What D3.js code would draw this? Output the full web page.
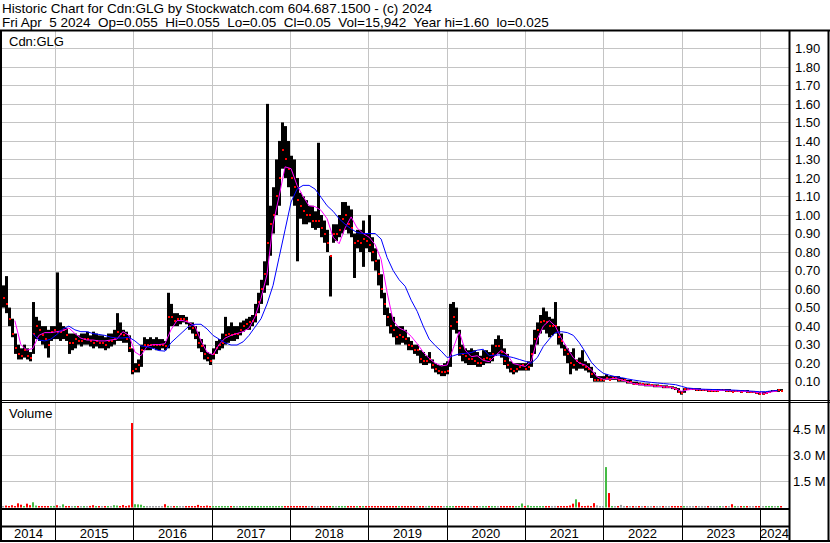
<!DOCTYPE html>
<html>
<head>
<meta charset="utf-8">
<script src="https://cdn.jsdelivr.net/npm/d3@7"></script>
<style>
body { margin: 0; background: #fff; }
text { font-family: "Liberation Sans", Arial, sans-serif; fill: #000; }
</style>
</head>
<body>
<div id="chart"></div>
<script>
// Text
var titleLine1 = "Historic Chart for Cdn:GLG by Stockwatch.com 604.687.1500 - (c) 2024";
var titleLine2 = "Fri Apr  5 2024  Op=0.055  Hi=0.055  Lo=0.05  Cl=0.05  Vol=15,942  Year hi=1.60  lo=0.025";
var symbol = "Cdn:GLG";
var volTitle = "Volume";

// Tick labels
var years = ["2014", "2015", "2016", "2017", "2018", "2019", "2020", "2021", "2022", "2023", "2024"];
var priceTicks = [0.1, 0.2, 0.3, 0.4, 0.5, 0.6, 0.7, 0.8, 0.9, 1.0, 1.1, 1.2, 1.3, 1.4, 1.5, 1.6, 1.7, 1.8, 1.9];
var volTicks = [1500, 3000, 4500];
var volTickLabels = ["1.5 M", "3.0 M", "4.5 M"];

// Bars are two weeks apart from the first one, moving averages four weeks apart
var firstBar = new Date(2014, 3, 28);
var barDays = 14;
var maDays = 28;

// One row per year of bars
var barHigh = [
  0.62,0.67,0.50,0.44,0.36,0.30,0.28,0.30,0.28,0.26,0.53,0.45,0.43,0.40,0.40,0.38,0.40,0.40,0.69,0.42,0.40,0.39,0.36,0.36,0.36,0.35,
  0.36,0.36,0.37,0.35,0.37,0.36,0.35,0.35,0.34,0.36,0.36,0.38,0.47,0.42,0.38,0.37,0.35,0.28,0.20,0.22,0.30,0.34,0.33,0.34,0.33,0.34,
  0.33,0.33,0.32,0.58,0.52,0.47,0.47,0.46,0.46,0.45,0.42,0.42,0.40,0.37,0.33,0.30,0.26,0.25,0.28,0.32,0.33,0.36,0.45,0.40,0.42,0.40,
  0.40,0.42,0.43,0.44,0.45,0.46,0.52,0.58,0.65,0.75,1.60,1.05,1.15,1.30,1.40,1.50,1.48,1.40,1.32,1.30,1.20,1.12,1.10,1.08,1.05,1.05,
  1.02,1.39,1.00,0.97,0.92,0.78,0.95,0.95,1.00,1.07,1.07,1.05,1.03,0.90,0.92,0.92,0.97,0.90,1.00,0.88,0.82,0.76,0.68,0.58,0.50,0.47,
  0.45,0.40,0.40,0.40,0.38,0.34,0.32,0.30,0.30,0.27,0.26,0.24,0.26,0.22,0.20,0.19,0.19,0.20,0.21,0.52,0.53,0.50,0.38,0.30,0.28,0.27,
  0.28,0.27,0.26,0.24,0.27,0.27,0.26,0.30,0.33,0.35,0.33,0.28,0.25,0.21,0.20,0.20,0.20,0.20,0.20,0.21,0.30,0.38,0.42,0.46,0.50,0.48,
  0.45,0.44,0.53,0.40,0.36,0.30,0.28,0.26,0.28,0.22,0.23,0.27,0.21,0.20,0.18,0.15,0.13,0.13,0.13,0.14,0.13,0.13,0.13,0.13,0.12,0.12,
  0.11,0.11,0.10,0.10,0.095,0.09,0.09,0.09,0.085,0.085,0.085,0.08,0.08,0.08,0.075,0.075,0.07,0.065,0.05,0.065,0.065,0.065,0.065,0.065,0.065,0.06,
  0.06,0.06,0.06,0.06,0.06,0.06,0.06,0.06,0.06,0.055,0.055,0.055,0.055,0.055,0.055,0.05,0.05,0.045,0.045,0.045,0.045,0.05,0.055,0.055,0.06,0.06
];
var barLow = [
  0.50,0.47,0.40,0.34,0.25,0.22,0.22,0.23,0.22,0.21,0.25,0.33,0.32,0.30,0.28,0.23,0.32,0.33,0.33,0.32,0.33,0.32,0.25,0.27,0.28,0.30,
  0.29,0.30,0.30,0.29,0.28,0.29,0.28,0.28,0.27,0.28,0.29,0.30,0.32,0.32,0.31,0.31,0.26,0.14,0.15,0.15,0.18,0.27,0.27,0.27,0.28,0.27,
  0.27,0.28,0.27,0.28,0.40,0.40,0.40,0.41,0.42,0.41,0.38,0.36,0.33,0.28,0.26,0.22,0.21,0.19,0.22,0.25,0.27,0.28,0.30,0.31,0.32,0.32,
  0.33,0.35,0.37,0.38,0.38,0.40,0.42,0.47,0.52,0.58,0.62,0.78,0.90,1.00,1.05,1.25,1.20,1.15,1.10,1.05,0.75,0.98,0.95,0.95,0.96,0.93,
  0.92,0.93,0.88,0.85,0.80,0.56,0.85,0.86,0.88,0.90,0.92,0.90,0.88,0.66,0.82,0.80,0.72,0.82,0.80,0.75,0.70,0.62,0.55,0.46,0.40,0.36,
  0.34,0.30,0.30,0.31,0.30,0.27,0.27,0.25,0.24,0.20,0.19,0.19,0.20,0.17,0.15,0.14,0.13,0.13,0.14,0.18,0.38,0.36,0.24,0.21,0.20,0.19,
  0.19,0.19,0.18,0.18,0.19,0.20,0.20,0.21,0.24,0.25,0.23,0.19,0.17,0.15,0.14,0.15,0.16,0.16,0.16,0.16,0.18,0.25,0.30,0.36,0.38,0.36,
  0.34,0.35,0.36,0.30,0.28,0.24,0.20,0.14,0.17,0.16,0.17,0.17,0.16,0.15,0.12,0.10,0.10,0.10,0.10,0.11,0.11,0.11,0.11,0.10,0.10,0.10,
  0.09,0.09,0.085,0.085,0.08,0.08,0.075,0.075,0.075,0.07,0.07,0.07,0.065,0.065,0.065,0.06,0.055,0.04,0.03,0.04,0.055,0.055,0.055,0.05,0.05,0.05,
  0.05,0.045,0.045,0.045,0.045,0.05,0.05,0.045,0.045,0.045,0.045,0.045,0.04,0.045,0.04,0.04,0.04,0.035,0.03,0.03,0.035,0.04,0.045,0.045,0.045,0.05
];
var barClose = [
  0.55,0.52,0.44,0.36,0.28,0.25,0.24,0.27,0.24,0.23,0.36,0.40,0.38,0.35,0.33,0.30,0.37,0.38,0.37,0.37,0.38,0.35,0.31,0.31,0.33,0.32,
  0.32,0.33,0.33,0.32,0.31,0.32,0.31,0.31,0.30,0.32,0.32,0.33,0.37,0.36,0.35,0.33,0.28,0.16,0.17,0.19,0.27,0.30,0.30,0.30,0.30,0.30,
  0.30,0.30,0.29,0.45,0.45,0.43,0.44,0.44,0.44,0.43,0.40,0.39,0.35,0.31,0.29,0.25,0.23,0.21,0.25,0.28,0.30,0.31,0.35,0.36,0.35,0.36,
  0.36,0.38,0.40,0.41,0.42,0.43,0.46,0.53,0.60,0.68,0.85,0.95,1.00,1.10,1.20,1.35,1.30,1.25,1.20,1.15,1.08,1.05,1.02,1.00,1.00,0.97,
  0.97,0.97,0.93,0.90,0.85,0.78,0.90,0.90,0.92,0.98,1.00,0.95,0.93,0.85,0.86,0.85,0.87,0.86,0.84,0.80,0.75,0.68,0.60,0.52,0.45,0.40,
  0.38,0.34,0.35,0.34,0.33,0.30,0.29,0.27,0.27,0.22,0.21,0.21,0.22,0.19,0.17,0.16,0.15,0.15,0.16,0.40,0.45,0.42,0.28,0.25,0.24,0.22,
  0.22,0.21,0.20,0.20,0.22,0.23,0.22,0.25,0.29,0.29,0.26,0.21,0.19,0.17,0.16,0.17,0.18,0.19,0.17,0.18,0.25,0.33,0.38,0.42,0.43,0.42,
  0.40,0.40,0.40,0.34,0.32,0.27,0.25,0.20,0.19,0.21,0.20,0.19,0.18,0.17,0.14,0.11,0.11,0.11,0.11,0.12,0.11,0.12,0.12,0.11,0.11,0.11,
  0.10,0.10,0.09,0.09,0.085,0.085,0.08,0.08,0.08,0.075,0.075,0.075,0.07,0.07,0.07,0.065,0.06,0.045,0.04,0.06,0.06,0.06,0.06,0.055,0.055,0.055,
  0.055,0.05,0.05,0.05,0.05,0.055,0.055,0.05,0.05,0.045,0.05,0.05,0.045,0.05,0.045,0.045,0.045,0.04,0.035,0.035,0.04,0.045,0.05,0.05,0.055,0.05
];
// Daily volume, thousands of shares
var barVolume = [
  80,110,80,130,80,240,160,80,220,130,300,110,80,70,60,70,80,90,130,80,180,80,60,70,80,60,
  70,60,70,90,130,70,60,70,60,60,80,130,110,70,140,80,120,4850,190,180,160,80,70,80,60,70,
  70,60,190,90,80,70,60,60,60,60,60,60,60,150,80,60,110,60,50,50,50,50,50,60,50,60,
  70,60,60,60,60,60,60,60,60,80,60,60,60,60,60,60,60,60,60,60,60,60,60,60,60,60,
  60,70,60,60,60,60,60,60,60,60,60,60,60,60,60,60,60,60,60,60,60,60,60,60,60,60,
  60,60,60,60,60,60,80,60,60,60,60,60,90,60,60,60,60,60,60,70,70,60,60,60,60,60,
  80,60,60,60,60,60,60,60,70,60,60,60,60,60,60,70,70,230,80,120,80,70,70,60,60,60,
  60,80,90,60,60,70,70,110,220,470,300,80,80,100,80,250,120,80,80,2320,830,80,80,70,150,80,
  70,60,60,60,60,60,60,60,60,60,60,60,60,60,60,60,80,60,60,60,60,60,70,60,60,60,
  60,60,60,60,60,60,60,60,60,190,60,60,60,60,60,60,60,60,60,60,60,60,60,60,60,60
];

// Moving averages
var maShort = [
  null,null,0.43,0.30,0.27,0.28,0.35,0.365,0.365,0.37,
  0.375,0.39,0.36,0.335,0.325,0.325,0.32,0.32,0.325,0.33,
  0.37,0.35,0.26,0.24,0.29,0.30,0.30,0.305,0.38,0.43,
  0.43,0.42,0.40,0.32,0.26,0.245,0.30,0.335,0.35,0.36,
  0.37,0.39,0.45,0.55,0.68,0.95,1.10,1.26,1.25,1.16,
  1.10,1.05,1.045,1.025,0.98,0.88,0.845,0.93,0.99,0.93,
  0.90,0.88,0.84,0.76,0.58,0.43,0.39,0.375,0.345,0.305,
  0.26,0.225,0.20,0.185,0.19,0.28,0.37,0.27,0.235,0.24,
  0.215,0.208,0.24,0.27,0.245,0.198,0.19,0.182,0.21,0.33,
  0.40,0.43,0.40,0.335,0.28,0.23,0.20,0.19,0.165,0.125,
  0.113,0.115,0.118,0.11,0.10,0.09,0.085,0.08,0.078,0.075,
  0.072,0.07,0.062,0.048,0.055,0.06,0.058,0.056,0.053,0.052,
  0.053,0.052,0.05,0.048,0.047,0.045,0.04,0.038,0.045,0.05
];
var maLong = [
  null,null,null,null,null,0.36,0.325,0.32,0.33,0.355,
  0.385,0.40,0.38,0.37,0.37,0.36,0.355,0.35,0.34,0.336,
  0.336,0.34,0.32,0.293,0.289,0.28,0.268,0.265,0.31,0.34,
  0.37,0.40,0.41,0.41,0.385,0.35,0.33,0.31,0.298,0.298,
  0.315,0.35,0.395,0.44,0.52,0.62,0.77,0.92,1.07,1.14,
  1.16,1.16,1.14,1.095,1.05,1.02,0.98,0.95,0.925,0.905,
  0.90,0.90,0.90,0.87,0.77,0.70,0.65,0.615,0.54,0.48,
  0.40,0.33,0.295,0.265,0.23,0.24,0.25,0.253,0.257,0.27,
  0.275,0.24,0.244,0.244,0.237,0.23,0.22,0.21,0.20,0.23,
  0.29,0.33,0.365,0.37,0.365,0.35,0.31,0.26,0.205,0.17,
  0.145,0.135,0.127,0.122,0.115,0.109,0.104,0.10,0.096,0.093,
  0.09,0.087,0.084,0.075,0.066,0.063,0.06,0.059,0.058,0.057,
  0.056,0.055,0.054,0.052,0.05,0.048,0.046,0.046,0.05,0.053
];

// Layout
var width = 830, height = 543;
var plotLeft = 2, plotRight = 789;
var priceTop = 31, priceBottom = 400.5;
var volTop = 403, volBottom = 509;
var cellBottom = 526.5, axisBottom = 541;
var gridColor = "#c4c4c4";

var svg = d3.select("#chart").append("svg")
    .attr("width", width)
    .attr("height", height);

// Scales
var x = d3.scaleTime()
    .domain([new Date(2015, 0, 1), new Date(2024, 0, 1)])
    .range([55, 760]);
var y = d3.scaleLinear()
    .domain([0, 2])
    .range([400.2, 29.8]);
var yVol = d3.scaleLinear()
    .domain([0, 6000])
    .range([507.5, 403]);
var volColor = d3.scaleOrdinal()
    .domain(["up", "down", "same"])
    .range(["#44bb44", "#ff0000", "#a0a0a0"]);

var bars = barHigh.map(function(h, i) {
    return {
        date: d3.timeDay.offset(firstBar, i * barDays),
        hi: h, lo: barLow[i], cl: barClose[i], vol: barVolume[i],
        dir: i == 0 ? "same" : (barClose[i] > barClose[i-1] ? "up" : (barClose[i] < barClose[i-1] ? "down" : "same"))
    };
});
var shortPts = maShort.map(function(v, i) { return {date: d3.timeDay.offset(firstBar, i * maDays), v: v}; });
var longPts = maLong.map(function(v, i) { return {date: d3.timeDay.offset(firstBar, i * maDays), v: v}; });

var yearStarts = years.map(function(yr) { return new Date(+yr, 0, 1); });

// Title
svg.append("text")
    .attr("x", 2).attr("y", 13)
    .style("font-size", "13.5px")
    .style("white-space", "pre")
    .text(titleLine1);
svg.append("text")
    .attr("x", 2).attr("y", 26.5)
    .style("font-size", "13.5px")
    .style("white-space", "pre")
    .text(titleLine2);

// Grid, price panel
svg.append("g").selectAll("line")
    .data(priceTicks)
    .enter().append("line")
    .attr("x1", plotLeft).attr("x2", plotRight)
    .attr("y1", d => Math.round(y(d)) + 0.5).attr("y2", d => Math.round(y(d)) + 0.5)
    .style("stroke", gridColor);
svg.append("g").selectAll("line")
    .data(yearStarts.slice(1))
    .enter().append("line")
    .attr("x1", d => Math.round(x(d)) + 0.5).attr("x2", d => Math.round(x(d)) + 0.5)
    .attr("y1", priceTop).attr("y2", priceBottom)
    .style("stroke", gridColor);

// Grid, volume panel
svg.append("g").selectAll("line")
    .data(volTicks)
    .enter().append("line")
    .attr("x1", plotLeft).attr("x2", plotRight)
    .attr("y1", d => Math.round(yVol(d)) + 0.5).attr("y2", d => Math.round(yVol(d)) + 0.5)
    .style("stroke", gridColor);
svg.append("g").selectAll("line")
    .data(yearStarts.slice(1))
    .enter().append("line")
    .attr("x1", d => Math.round(x(d)) + 0.5).attr("x2", d => Math.round(x(d)) + 0.5)
    .attr("y1", volTop).attr("y2", volBottom)
    .style("stroke", gridColor);

// Price bars and closes
svg.append("g").selectAll("rect")
    .data(bars)
    .enter().append("rect")
    .attr("x", d => Math.round(x(d.date)))
    .attr("y", d => y(d.hi))
    .attr("width", 3)
    .attr("height", d => Math.max(1, y(d.lo) - y(d.hi)))
    .style("fill", "#000");
svg.append("g").selectAll("rect")
    .data(bars)
    .enter().append("rect")
    .attr("x", d => Math.round(x(d.date)) + 1)
    .attr("y", d => Math.round(y(d.cl)) - 1)
    .attr("width", 2)
    .attr("height", 2)
    .style("fill", "#ff0000");

// Moving averages
var maLine = d3.line()
    .defined(d => d.v != null)
    .x(d => x(d.date) + 1)
    .y(d => y(d.v));
svg.append("path")
    .attr("d", maLine(shortPts))
    .style("fill", "none")
    .style("stroke", "#ff00ff")
    .style("stroke-width", 1);
svg.append("path")
    .attr("d", maLine(longPts))
    .style("fill", "none")
    .style("stroke", "#0000ff")
    .style("stroke-width", 1);

// Volume bars
svg.append("g").selectAll("rect")
    .data(bars)
    .enter().append("rect")
    .attr("x", d => Math.round(x(d.date)))
    .attr("y", d => Math.min(yVol(d.vol), yVol(0) - 1.5))
    .attr("width", 2)
    .attr("height", d => Math.max(1.5, yVol(0) - yVol(d.vol)))
    .style("fill", d => volColor(d.dir));

// Right axes
var priceAxis = d3.axisRight(y)
    .tickValues(priceTicks)
    .tickFormat(d3.format(".2f"))
    .tickSize(0)
    .tickPadding(6);
var priceAxisG = svg.append("g")
    .attr("transform", "translate(" + plotRight + ",0)")
    .call(priceAxis);
priceAxisG.select(".domain").remove();

var volAxis = d3.axisRight(yVol)
    .tickValues(volTicks)
    .tickFormat((d, i) => volTickLabels[i])
    .tickSize(0)
    .tickPadding(4);
var volAxisG = svg.append("g")
    .attr("transform", "translate(" + plotRight + ",0)")
    .call(volAxis);
volAxisG.select(".domain").remove();

svg.selectAll(".tick text")
    .attr("font-family", null)
    .style("font-size", "13px")
    .style("fill", "#000");

// Panel labels
svg.append("text")
    .attr("x", 9).attr("y", 46)
    .style("font-size", "13px")
    .text(symbol);
svg.append("text")
    .attr("x", 9).attr("y", 418)
    .style("font-size", "13px")
    .text(volTitle);

// Date row: year cells
svg.append("g").selectAll("line")
    .data(yearStarts.slice(1))
    .enter().append("line")
    .attr("x1", d => Math.round(x(d)) + 0.5).attr("x2", d => Math.round(x(d)) + 0.5)
    .attr("y1", volBottom).attr("y2", axisBottom)
    .style("stroke", "#000");
svg.append("g").selectAll("text")
    .data(years)
    .enter().append("text")
    .attr("x", function(d, i) {
        var a = Math.max(plotLeft, x(yearStarts[i]));
        var b = i + 1 < yearStarts.length ? Math.min(plotRight, x(yearStarts[i+1])) : plotRight;
        return (a + b) / 2;
    })
    .attr("y", 538)
    .attr("text-anchor", "middle")
    .style("font-size", "13px")
    .text(d => d);

// Frame
function hline(y0, x0, x1, w) {
    svg.append("line").attr("x1", x0).attr("x2", x1).attr("y1", y0).attr("y2", y0)
        .style("stroke", "#000").style("stroke-width", w);
}
function vline(x0, y0, y1, w) {
    svg.append("line").attr("x1", x0).attr("x2", x0).attr("y1", y0).attr("y2", y1)
        .style("stroke", "#000").style("stroke-width", w);
}
hline(30.5, 0, width, 2);
hline(400.5, 0, width, 1);
hline(402.5, 0, width, 1);
hline(509, 0, plotRight, 2);
hline(526.5, 0, plotRight, 2);
hline(541, 0, width, 2);
vline(1, 30, 542, 2);
vline(789.5, 30, 542, 2);
vline(828.5, 30, 542, 2);
</script>
</body>
</html>
